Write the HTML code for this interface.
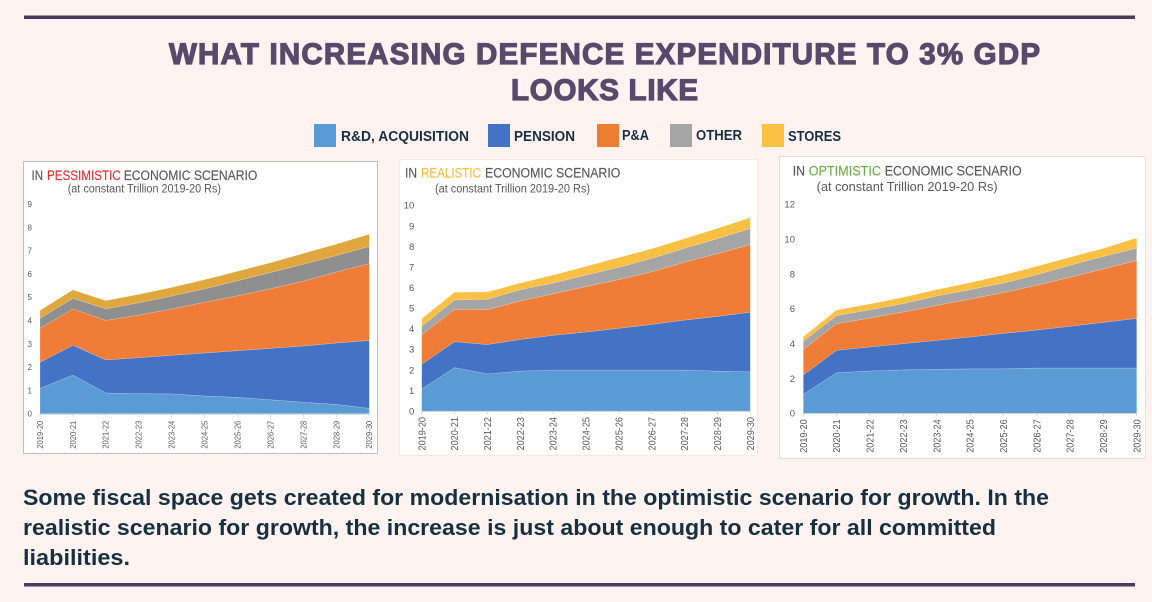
<!DOCTYPE html>
<html lang="en">
<head>
<meta charset="utf-8">
<title>What increasing defence expenditure to 3% GDP looks like</title>
<style>
  html, body { margin: 0; padding: 0; background: #fef3f0; }
  body { width: 1152px; height: 602px; overflow: hidden; }
  svg { display: block; font-family: "Liberation Sans", sans-serif; }
  .head { font-size: 29.5px; font-weight: 700; fill: #59496b; stroke: #59496b; stroke-width: 1.2px; }
  .leg { font-size: 14.5px; font-weight: 700; fill: #16303f; }
  .body { font-size: 22.5px; font-weight: 700; fill: #16303f; }
  .ct { font-size: 13.5px; fill: #595959; stroke: #595959; stroke-width: 0.15px; }
  .ck { font-size: 13.5px; stroke-width: 0.15px; }
  .cs { font-size: 11.5px; fill: #595959; }
</style>
</head>
<body>
<svg id="root" width="1152" height="602" viewBox="0 0 1152 602">
  <rect x="24" y="15.5" width="1111" height="3.5" fill="#4a3a5f"/>
  <rect x="24" y="583" width="1111" height="3.5" fill="#4a3a5f"/>

  <text class="head" x="169" y="64" textLength="871" lengthAdjust="spacing">WHAT INCREASING DEFENCE EXPENDITURE TO 3% GDP</text>
  <text class="head" x="511" y="100" textLength="187" lengthAdjust="spacing">LOOKS LIKE</text>

  <g>
    <rect x="314" y="124" width="22" height="23" fill="#5b9bd5"/>
    <text class="leg" x="341" y="141" textLength="128" lengthAdjust="spacingAndGlyphs">R&amp;D, ACQUISITION</text>
    <rect x="488" y="124" width="22" height="23" fill="#4472c4"/>
    <text class="leg" x="514" y="141" textLength="61" lengthAdjust="spacingAndGlyphs">PENSION</text>
    <rect x="597" y="124" width="22" height="23" fill="#ed7d31"/>
    <text class="leg" x="622" y="140" textLength="27" lengthAdjust="spacingAndGlyphs">P&amp;A</text>
    <rect x="670" y="124" width="22" height="23" fill="#a5a5a5"/>
    <text class="leg" x="696" y="140" textLength="46" lengthAdjust="spacingAndGlyphs">OTHER</text>
    <rect x="762" y="124" width="22" height="23" fill="#f9c044"/>
    <text class="leg" x="788" y="141" textLength="53" lengthAdjust="spacingAndGlyphs">STORES</text>
  </g>

  <rect x="23.5" y="161.5" width="354" height="292" fill="#fff" stroke="#c4bebd"/>
  <rect x="399.5" y="159.5" width="358" height="296" fill="#fff" stroke="#f3e9e6"/>
  <rect x="779.5" y="156.5" width="366" height="302" fill="#fff" stroke="#e6dedc"/>

  <g>
    <text class="ct" x="31.5" y="180" textLength="11.5" lengthAdjust="spacingAndGlyphs">IN</text>
    <text class="ck" x="47" y="180" textLength="73.7" lengthAdjust="spacingAndGlyphs" style="fill:#ee2e36;stroke:#ee2e36">PESSIMISTIC</text>
    <text class="ct" x="123.7" y="180" textLength="133.6" lengthAdjust="spacingAndGlyphs">ECONOMIC SCENARIO</text>
    <text class="cs" x="67.7" y="192.5" textLength="153.3" lengthAdjust="spacingAndGlyphs">(at constant Trillion 2019-20 Rs)</text>
  </g>
  <g>
    <text class="ct" x="405" y="177.5" textLength="12" lengthAdjust="spacingAndGlyphs">IN</text>
    <text class="ck" x="421" y="177.5" textLength="60" lengthAdjust="spacingAndGlyphs" style="fill:#f9bf45;stroke:#f9bf45">REALISTIC</text>
    <text class="ct" x="485" y="177.5" textLength="135.3" lengthAdjust="spacingAndGlyphs">ECONOMIC SCENARIO</text>
    <text class="cs" x="435" y="192.5" textLength="155" lengthAdjust="spacingAndGlyphs">(at constant Trillion 2019-20 Rs)</text>
  </g>
  <g>
    <text class="ct" x="792.7" y="175.5" textLength="12.3" lengthAdjust="spacingAndGlyphs">IN</text>
    <text class="ck" x="808.7" y="175.5" textLength="72.3" lengthAdjust="spacingAndGlyphs" style="fill:#70ad47;stroke:#70ad47">OPTIMISTIC</text>
    <text class="ct" x="884.7" y="175.5" textLength="137" lengthAdjust="spacingAndGlyphs">ECONOMIC SCENARIO</text>
    <text class="cs" x="816.7" y="191" textLength="181" lengthAdjust="spacingAndGlyphs" style="font-size:12.5px">(at constant Trillion 2019-20 Rs)</text>
  </g>

  <g id="charts"></g>

  <g>
    <text class="body" x="23" y="505" textLength="1026" lengthAdjust="spacingAndGlyphs">Some fiscal space gets created for modernisation in the optimistic scenario for growth. In the</text>
    <text class="body" x="23" y="535" textLength="973" lengthAdjust="spacingAndGlyphs">realistic scenario for growth, the increase is just about enough to cater for all committed</text>
    <text class="body" x="23" y="565" textLength="107" lengthAdjust="spacingAndGlyphs">liabilities.</text>
  </g>
</svg>

<script>
var categories = ['2019-20','2020-21','2021-22','2022-23','2023-24','2024-25','2025-26','2026-27','2027-28','2028-29','2029-30'];
var seriesNames = ['rd-acquisition','pension','pa','other','stores'];

var pessimisticRd      = [1.09,1.66,0.89,0.86,0.85,0.76,0.70,0.60,0.49,0.40,0.23];
var pessimisticPension = [1.12,1.28,1.42,1.55,1.66,1.85,2.01,2.21,2.42,2.64,2.92];
var pessimisticPa      = [1.46,1.56,1.70,1.83,1.99,2.18,2.36,2.56,2.79,3.05,3.30];
var pessimisticOther   = [0.43,0.46,0.50,0.53,0.56,0.58,0.65,0.70,0.73,0.71,0.74];
var pessimisticStores  = [0.34,0.36,0.35,0.36,0.37,0.39,0.40,0.42,0.46,0.49,0.53];
var pessimisticTicks   = [0,1,2,3,4,5,6,7,8,9];

var realisticRd      = [1.07,2.11,1.80,1.94,1.99,1.99,1.99,1.99,1.99,1.94,1.90];
var realisticPension = [1.20,1.26,1.43,1.54,1.69,1.85,2.03,2.22,2.43,2.66,2.90];
var realisticPa      = [1.43,1.57,1.70,1.87,2.02,2.21,2.37,2.56,2.82,3.05,3.29];
var realisticOther   = [0.42,0.46,0.50,0.55,0.52,0.56,0.60,0.65,0.67,0.73,0.79];
var realisticStores  = [0.37,0.37,0.36,0.32,0.39,0.42,0.47,0.47,0.47,0.50,0.52];
var realisticTicks   = [0,1,2,3,4,5,6,7,8,9,10];

var optimisticRd      = [1.09,2.33,2.43,2.49,2.53,2.55,2.55,2.60,2.60,2.60,2.60];
var optimisticPension = [1.11,1.29,1.38,1.51,1.66,1.83,2.04,2.18,2.40,2.62,2.85];
var optimisticPa      = [1.47,1.53,1.66,1.82,2.01,2.18,2.34,2.57,2.81,3.07,3.32];
var optimisticOther   = [0.48,0.46,0.48,0.48,0.54,0.54,0.55,0.61,0.69,0.72,0.72];
var optimisticStores  = [0.25,0.32,0.33,0.36,0.36,0.40,0.46,0.48,0.46,0.46,0.58];
var optimisticTicks   = [0,2,4,6,8,10,12];

var NS = 'http://www.w3.org/2000/svg';
function make(tag, parent, attrs) {
  var el = document.createElementNS(NS, tag);
  for (var k in attrs) el.setAttribute(k, attrs[k]);
  parent.appendChild(el);
  return el;
}

function drawChart(cfg) {
  var g = make('g', document.getElementById('charts'), {});
  
  

  var maxTick = cfg.ticks[cfg.ticks.length - 1];
  function xScale(i) { return cfg.x0 + (cfg.x1 - cfg.x0) * i / (categories.length - 1); }
  function yScale(v) { return cfg.y0 - (cfg.y0 - cfg.yTop) * v / maxTick; }

  var base = categories.map(function () { return 0; });
  cfg.series.forEach(function (values, s) {
    var top = values.map(function (v, i) { return base[i] + v; });
    var pts = [];
    top.forEach(function (v, i) { pts.push(xScale(i).toFixed(2) + ',' + yScale(v).toFixed(2)); });
    for (var i = categories.length - 1; i >= 0; i--) {
      pts.push(xScale(i).toFixed(2) + ',' + yScale(base[i]).toFixed(2));
    }
    var area = make('polygon', g, {
      points: pts.join(' '),
      fill: cfg.colors[s],
      stroke: '#ffffff',
      'stroke-opacity': '0.35',
      'stroke-width': '0.5'
    });
    
    
    base = top;
  });

  var axis = make('line', g, { x1: cfg.x0, x2: cfg.x1, y1: cfg.y0 + 0.5, y2: cfg.y0 + 0.5, stroke: '#d4d4d4', 'stroke-width': '1' });
  
  

  cfg.ticks.forEach(function (t) {
    var label = make('text', g, {
      x: cfg.yLabelX,
      y: yScale(t) + cfg.ySize * 0.36,
      'text-anchor': 'end',
      'font-size': cfg.ySize,
      fill: '#595959'
    });
    label.textContent = String(t);
    
    
  });

  categories.forEach(function (c, i) {
    var x = xScale(i);
    var mark = make('line', g, { x1: x, x2: x, y1: cfg.y0, y2: cfg.y0 + 3, stroke: '#d4d4d4', 'stroke-width': '1' });
    
    
    var ly = cfg.y0 + cfg.xLabelGap;
    var label = make('text', g, {
      transform: 'translate(' + (x + cfg.xSize * 0.36).toFixed(2) + ',' + ly + ') rotate(-90)',
      'text-anchor': 'end',
      'font-size': cfg.xSize,
      fill: '#595959',
      textLength: cfg.xLabelLen,
      lengthAdjust: 'spacingAndGlyphs'
    });
    label.textContent = c;
    
    
  });
}

drawChart({
  name: 'pessimistic',
  series: [pessimisticRd, pessimisticPension, pessimisticPa, pessimisticOther, pessimisticStores],
  ticks: pessimisticTicks,
  colors: ['#5b9bd5', '#4472c4', '#ef7d37', '#8f8f8f', '#e0a83c'],
  x0: 40, x1: 369.3, y0: 413.7, yTop: 204.3,
  yLabelX: 32, ySize: 8, xSize: 8, xLabelGap: 7, xLabelLen: 28
});
drawChart({
  name: 'realistic',
  series: [realisticRd, realisticPension, realisticPa, realisticOther, realisticStores],
  ticks: realisticTicks,
  colors: ['#5b9bd5', '#4472c4', '#ef7d37', '#a5a5a5', '#f9c044'],
  x0: 421.7, x1: 750.3, y0: 411, yTop: 205.3,
  yLabelX: 414.3, ySize: 9.5, xSize: 10, xLabelGap: 6, xLabelLen: 33.5
});
drawChart({
  name: 'optimistic',
  series: [optimisticRd, optimisticPension, optimisticPa, optimisticOther, optimisticStores],
  ticks: optimisticTicks,
  colors: ['#5b9bd5', '#4472c4', '#ef7d37', '#a5a5a5', '#f9c044'],
  x0: 803.3, x1: 1136.7, y0: 413.3, yTop: 204.3,
  yLabelX: 795, ySize: 9.5, xSize: 10, xLabelGap: 6, xLabelLen: 33.5
});
</script>
</body>
</html>
